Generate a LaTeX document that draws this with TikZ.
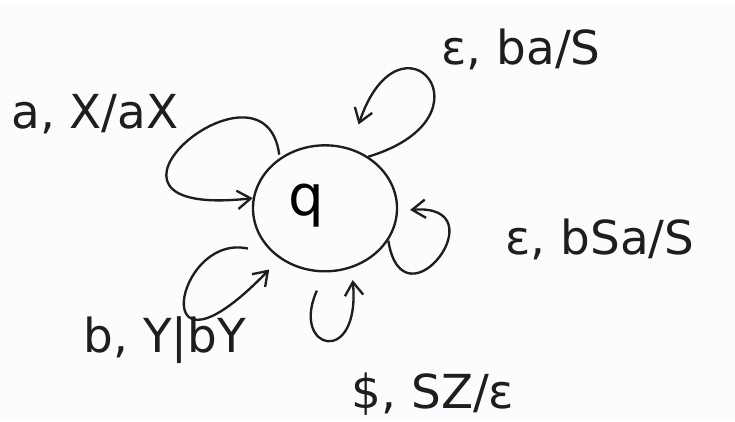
\documentclass[tikz,border=0pt]{standalone}
\usepackage{fontspec}
\setmainfont{DejaVu Sans}
\usepackage{tikz}
\usetikzlibrary{arrows.meta,shapes.geometric}
\definecolor{pdaink}{HTML}{1E1E1E}
\definecolor{pdapaper}{HTML}{FBFCFD}

\begin{document}
\begin{tikzpicture}[x=0.3mm,y=-0.3mm,
    state/.style={ellipse,draw=pdaink,line width=2pt,
                  minimum width=43.2mm,minimum height=37.8mm,
                  inner sep=0pt,font=\fontsize{48}{56}\selectfont},
    loopline/.style={draw=pdaink,line width=2pt,
                     -{Straight Barb[length=4mm,width=5.5mm]}},
    trans/.style={font=\fontsize{40}{48}\selectfont,text=pdaink,inner sep=0pt},
  ]
    % paper, fixes the margins
    \fill[pdapaper] (0,0) rectangle (735,419);

    % the one state (letter sits up and left, as drawn)
    \node[state] (q) at (325,206) {\raisebox{5mm}{q}\hspace*{11mm}};

    % self loops, one per transition
    \draw[loopline,shorten <=1mm]  (q.132) .. controls +(-15,-115) and +(-200,22) .. (q.172);
    \draw[loopline,shorten >=7.5mm] (q.50) .. controls +(132,-40) and +(50,-147) .. (q.67);
    \draw[loopline,shorten >=3.6mm] (q.333) .. controls +(15,92) and +(103,-8) .. (q.358);
    \draw[loopline,shorten <=6mm,shorten >=3.6mm] (q.270) .. controls +(-35,78) and +(9,100) .. (q.294);
    \draw[loopline,shorten <=8mm,shorten >=4.5mm] (q.222) .. controls +(-100,-22) and +(-135,140) .. (q.228);

    % transition labels
    \node[trans] (pushA)  at (95,112)  {a, X/aX};
    \node[trans] (popBA)  at (521,47)  {ε, ba/S};
    \node[trans] (popBSA) at (600,237) {ε, bSa/S};
    \node[trans] (pushB)  at (165,338) {b, Y|bY};
    \node[trans] (popSZ)  at (433,392) {\$, SZ/ε};
  \end{tikzpicture}
\end{document}
